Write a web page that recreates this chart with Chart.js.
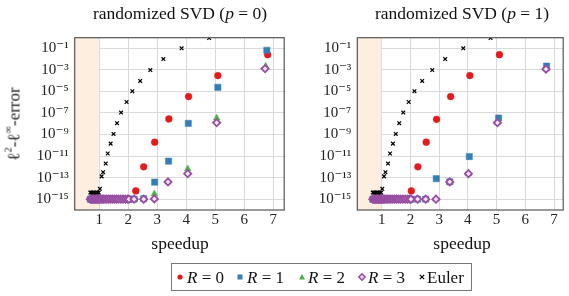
<!DOCTYPE html>
<html>
<head>
<meta charset="utf-8">
<script src="https://cdn.jsdelivr.net/npm/chart.js@4.4.1/dist/chart.umd.min.js"></script>
<style>
body { margin:0; background:#fff; width:569px; height:296px; position:relative; overflow:hidden;
       font-family:'Liberation Serif','DejaVu Serif',serif; color:#111; }
canvas { position:absolute; top:0; }
.lbl { position:absolute; white-space:nowrap; transform:translate(-50%,-50%); line-height:1; }
.title { font-size:17.5px; }
.xlab { font-size:17.5px; }
.ylab { font-size:17px; color:#222; transform:translate(-50%,-50%) rotate(-90deg); }
sup { font-size:0.62em; position:relative; top:-0.15em; vertical-align:top; }
#legend { position:absolute; left:171px; top:263px; width:299px; height:26px; border:1px solid #777; }
.item { position:absolute; top:13px; transform:translateY(-50%); font-size:17px; white-space:nowrap; line-height:1; }
.sym { position:absolute; top:13px; transform:translate(-50%,-50%); }
</style>
</head>
<body>
<canvas id="left" width="290" height="235" style="left:0"></canvas>
<canvas id="right" width="279" height="235" style="left:290px"></canvas>

<div class="lbl title" style="left:180px; top:14px">randomized SVD (<i>p</i> = 0)</div>
<div class="lbl title" style="left:462px; top:14px">randomized SVD (<i>p</i> = 1)</div>
<div class="lbl xlab" style="left:180px; top:244px">speedup</div>
<div class="lbl xlab" style="left:462px; top:244px">speedup</div>
<div class="lbl ylab" style="left:14px; top:124px">ℓ<sup>2</sup>-ℓ<sup>∞</sup>-error</div>

<div id="legend">
  <svg class="sym" style="left:8px" width="8" height="8"><circle cx="4" cy="4" r="2.6" fill="#e41a1c"/></svg>
  <span class="item" style="left:15px"><i>R</i> = 0</span>
  <svg class="sym" style="left:68px" width="8" height="8"><rect x="1.5" y="1.5" width="5" height="5" fill="#377eb8"/></svg>
  <span class="item" style="left:75px"><i>R</i> = 1</span>
  <svg class="sym" style="left:130px" width="8" height="8"><polygon points="4,1 7,6.5 1,6.5" fill="#4daf4a"/></svg>
  <span class="item" style="left:136px"><i>R</i> = 2</span>
  <svg class="sym" style="left:190px" width="8" height="8"><polygon points="4,0.8 7.2,4 4,7.2 0.8,4" fill="#e6d0ec" stroke="#984ea3" stroke-width="1.5"/></svg>
  <span class="item" style="left:196px"><i>R</i> = 3</span>
  <svg class="sym" style="left:250px" width="8" height="8"><path d="M1.8,1.8 L6.2,6.2 M6.2,1.8 L1.8,6.2" stroke="#000" stroke-width="1.2"/></svg>
  <span class="item" style="left:255px">Euler</span>
</div>

<script>
// Euler reference (same in both panels)
const eulerSpeedup = [0.69, 0.73, 0.78, 0.83, 0.88, 0.93, 0.98, 1.02, 1.08, 1.13, 1.22, 1.29, 1.39, 1.49, 1.61, 1.75, 1.94, 2.14, 2.41, 2.76, 3.21, 3.84, 4.79];
const eulerError = [4.1e-15, 4.1e-15, 4.1e-15, 4.1e-15, 4.1e-15, 4.1e-15, 4.1e-15, 9.1e-15, 1.3e-13, 3.2e-13, 2.0e-12, 1.7e-11, 1.4e-10, 1.1e-9, 1.1e-8, 1.05e-7, 1.0e-6, 1.0e-5, 8.9e-5, 9.1e-4, 9.5e-3, 9.3e-2, 0.85];

// points stuck at machine precision (R = 1, 2, 3 in both panels)
const floorSpeedup = [0.69, 0.72, 0.75, 0.78, 0.81, 0.84, 0.87, 0.9, 0.93, 0.96, 0.99, 1.02, 1.06, 1.1, 1.15, 1.2, 1.26, 1.32, 1.38, 1.45, 1.52, 1.59, 1.66, 1.74, 1.82, 1.9, 1.98, 2.02];
const floorError = [1e-15, 1e-15, 1e-15, 1e-15, 1e-15, 1e-15, 1e-15, 1e-15, 1e-15, 1e-15, 1e-15, 1e-15, 1e-15, 1e-15, 1e-15, 1e-15, 1e-15, 1e-15, 1e-15, 1e-15, 1e-15, 1e-15, 1e-15, 1e-15, 1e-15, 1e-15, 1e-15, 1e-15];

// p = 0
const r0SpeedupP0 = [2.26, 2.53, 2.91, 3.40, 4.08, 5.09, 6.81];
const r0ErrorP0 = [5.9e-15, 1.0e-12, 1.9e-10, 2.7e-8, 3.2e-6, 2.8e-4, 2.4e-2];
const r1SpeedupP0 = [2.2, 2.53, 2.91, 3.39, 4.07, 5.09, 6.78];
const r1ErrorP0 = [1.0e-15, 1.15e-15, 3.8e-14, 3.3e-12, 1.07e-8, 2.3e-5, 6.2e-2];
const r2SpeedupP0 = [2.2, 2.53, 2.90, 4.05, 5.05, 6.74];
const r2ErrorP0 = [1.0e-15, 1.0e-15, 3.2e-15, 6.5e-13, 3.3e-8, 2.1e-3];
const r3SpeedupP0 = [2.2, 2.53, 2.90, 3.37, 4.05, 5.05, 6.72];
const r3ErrorP0 = [1.0e-15, 1.0e-15, 1.07e-15, 4.0e-14, 2.3e-13, 1.2e-8, 1.2e-3];

// p = 1
const r0SpeedupP1 = [2.03, 2.26, 2.55, 2.91, 3.40, 4.07, 5.10];
const r0ErrorP1 = [5.9e-15, 1.0e-12, 1.9e-10, 2.5e-8, 3.2e-6, 2.8e-4, 2.4e-2];
const r1SpeedupP1 = [2.25, 2.53, 2.90, 3.37, 4.05, 5.07, 6.74];
const r1ErrorP1 = [1.0e-15, 1.0e-15, 7.9e-14, 4.0e-14, 8.9e-12, 3.3e-8, 2.1e-3];
const r2SpeedupP1 = [2.25, 2.53, 2.89, 3.37, 4.02, 5.03, 6.74];
const r2ErrorP1 = [1.0e-15, 1.0e-15, 1.0e-15, 4.0e-14, 2.3e-13, 1.2e-8, 1.2e-3];
const r3SpeedupP1 = [2.25, 2.53, 2.89, 3.37, 4.02, 5.03, 6.72];
const r3ErrorP1 = [1.0e-15, 1.0e-15, 1.0e-15, 4.0e-14, 2.3e-13, 1.2e-8, 1.1e-3];

const xTicks = [1, 2, 3, 4, 5, 6, 7];
const yTicks = [1e-15, 1e-13, 1e-11, 1e-9, 1e-7, 1e-5, 1e-3, 1e-1];

const colors = { r0: '#e41a1c', r1: '#377eb8', r2: '#4daf4a', r3: '#984ea3' };
const supDigits = { '-': '⁻', '0': '⁰', '1': '¹', '2': '²', '3': '³', '4': '⁴', '5': '⁵', '6': '⁶', '7': '⁷', '8': '⁸', '9': '⁹' };

function toPoints(xs, ys) {
    return xs.map((x, i) => ({ x: x, y: ys[i] }));
}

function powerLabel(v) {
    let e = String(Math.round(Math.log10(v)));
    return '10' + e.split('').map(c => supDigits[c]).join('');
}

// shade the slowdown region (speedup < 1) and draw the full axis box
const framePlugin = {
    id: 'frame',
    beforeDatasetsDraw(chart) {
        const a = chart.chartArea, ctx = chart.ctx;
        const x1 = chart.scales.x.getPixelForValue(1);
        ctx.save();
        ctx.fillStyle = '#fdeee0';
        ctx.fillRect(a.left, a.top, x1 - a.left - 0.5, a.bottom - a.top);
        ctx.restore();
    },
    afterDatasetsDraw(chart) {
        const a = chart.chartArea, ctx = chart.ctx;
        ctx.save();
        ctx.strokeStyle = '#555';
        ctx.lineWidth = 1.2;
        ctx.strokeRect(a.left, a.top, a.right - a.left, a.bottom - a.top);
        ctx.restore();
    }
};

function makeChart(id, series, xMax, padLeft, padRight) {
    const ds = [
        { data: toPoints(eulerSpeedup, eulerError), pointStyle: 'crossRot', pointRadius: 2.6,
          borderColor: '#000', backgroundColor: '#000', pointBorderWidth: 1.2 },
        { data: toPoints(floorSpeedup.concat(series.r3x), floorError.concat(series.r3y)), pointStyle: 'rectRot', pointRadius: 3.6,
          borderColor: colors.r3, backgroundColor: '#f4eaf6', pointBorderWidth: 1.8 },
        { data: toPoints(floorSpeedup.concat(series.r2x), floorError.concat(series.r2y)), pointStyle: 'triangle', pointRadius: 3.8,
          borderColor: colors.r2, backgroundColor: colors.r2, pointBorderWidth: 0.5 },
        { data: toPoints(floorSpeedup.concat(series.r1x), floorError.concat(series.r1y)), pointStyle: 'rect', pointRadius: 4.4,
          borderColor: colors.r1, backgroundColor: colors.r1, pointBorderWidth: 0.5 },
        { data: toPoints(series.r0x, series.r0y), pointStyle: 'circle', pointRadius: 3.4,
          borderColor: colors.r0, backgroundColor: colors.r0, pointBorderWidth: 0.5 }
    ];
    const font = { family: "'Liberation Serif', 'DejaVu Serif', serif", size: 15 };
    return new Chart(document.getElementById(id), {
        type: 'scatter',
        data: { datasets: ds },
        plugins: [framePlugin],
        options: {
            responsive: false,
            animation: false,
            devicePixelRatio: 1,
            layout: { padding: { left: padLeft, right: padRight, top: 37.7, bottom: 0 } },
            plugins: { legend: { display: false }, tooltip: { enabled: false } },
            scales: {
                x: {
                    type: 'linear', min: 0.15, max: xMax,
                    afterBuildTicks: s => { s.ticks = xTicks.map(v => ({ value: v })); },
                    afterFit: s => { s.height = 25; },
                    ticks: { font: font, color: '#222', padding: 1, autoSkip: false },
                    grid: { color: '#dadada', lineWidth: 1, drawTicks: false },
                    border: { display: false }
                },
                y: {
                    type: 'logarithmic', min: 1e-16, max: 0.9,
                    afterBuildTicks: s => { s.ticks = yTicks.map(v => ({ value: v })); },
                    afterFit: s => { s.width = 44.7; },
                    ticks: { font: font, color: '#222', padding: 6, autoSkip: false, callback: v => powerLabel(v) },
                    grid: { color: '#dadada', lineWidth: 1, drawTicks: false },
                    border: { display: false }
                }
            }
        }
    });
}

makeChart('left', {
    r0x: r0SpeedupP0, r0y: r0ErrorP0, r1x: r1SpeedupP0, r1y: r1ErrorP0,
    r2x: r2SpeedupP0, r2y: r2ErrorP0, r3x: r3SpeedupP0, r3y: r3ErrorP0
}, 7.38, 30, 4.7);

makeChart('right', {
    r0x: r0SpeedupP1, r0y: r0ErrorP1, r1x: r1SpeedupP1, r1y: r1ErrorP1,
    r2x: r2SpeedupP1, r2y: r2ErrorP1, r3x: r3SpeedupP1, r3y: r3ErrorP1
}, 7.32, 22.6, 1.3);
</script>
</body>
</html>
